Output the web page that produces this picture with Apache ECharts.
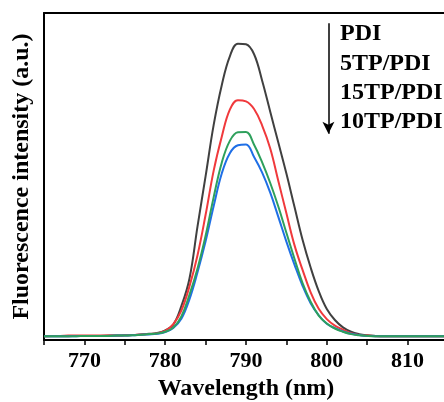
<!DOCTYPE html>
<html><head><meta charset="utf-8">
<script src="https://cdn.jsdelivr.net/npm/echarts@6/dist/echarts.min.js"></script>
<style>html,body{margin:0;padding:0;background:#fff}#c{width:444px;height:402px}</style>
</head><body><div id="c"></div>
<script>
var wavelengths = [765,766,767,768,769,770,771,772,773,774,775,776,777,778,779,780,781,782,783,784,785,786,787,788,789,790,791,792,793,794,795,796,797,798,799,800,801,802,803,804,805,806,807,808,809,810,811,812,813,814,815];
var PDI      = [0.3,0.3,0.3,0.3,0.4,0.4,0.4,0.4,0.5,0.5,0.6,0.7,0.9,1.1,1.4,2.3,4.2,10.5,19.8,37.6,54.6,72,85.5,95.3,99.6,99.4,96,87,76.5,66,55.5,44.2,33,23.6,15.6,9.5,5.8,3.3,1.8,1.0,0.6,0.4,0.3,0.3,0.3,0.3,0.3,0.3,0.3,0.3,0.3];
var TP5_PDI  = [0.3,0.4,0.4,0.5,0.5,0.5,0.5,0.5,0.5,0.5,0.6,0.7,0.9,1.0,1.3,2.1,4.4,9,17.2,27.8,41.5,56.5,68,77.2,80.4,80,77.4,71.8,64,53,42,31.2,22.8,15.2,9.6,6.1,3.9,2.5,1.3,0.7,0.5,0.3,0.3,0.3,0.3,0.3,0.3,0.3,0.3,0.3,0.3];
var TP15_PDI = [0.3,0.3,0.3,0.3,0.3,0.4,0.4,0.4,0.4,0.5,0.5,0.6,0.8,1.0,1.2,1.8,3.2,7,14.3,23.3,34.4,47.5,59.2,66.6,69.5,69.6,65.3,59.3,52.3,44.3,35.4,26.6,18.3,12,7.3,4.6,2.9,1.8,1.0,0.6,0.4,0.3,0.3,0.3,0.3,0.3,0.3,0.3,0.3,0.3,0.3];
var TP10_PDI = [0.3,0.3,0.3,0.3,0.3,0.4,0.4,0.4,0.4,0.5,0.5,0.6,0.8,0.9,1.1,1.7,3.1,6.2,12.8,22,32.5,44.5,55.5,62.4,65.1,65.4,61.1,55.8,49,40.8,32.4,24.6,17.4,11.5,7.4,4.5,3.0,1.9,1.1,0.7,0.4,0.3,0.3,0.3,0.3,0.3,0.3,0.3,0.3,0.3,0.3];
var seriesNames = ['PDI','5TP/PDI','15TP/PDI','10TP/PDI'];
var xTicks = [770,780,790,800,810];

function pairs(arr){ return wavelengths.map(function(w,i){ return [w, arr[i]]; }); }
var FONT = '"Liberation Serif","Times New Roman",serif';
var chart = echarts.init(document.getElementById('c'), null, {renderer:'canvas'});
function line(name, data, color, z){
  return {name:name, type:'line', data:pairs(data), showSymbol:false, smooth:0.4, z:z,
    lineStyle:{color:color, width:2}, itemStyle:{color:color}, animation:false};
}
var black = line(seriesNames[0], PDI, '#404040', 2);
black.markLine = {silent:true, symbol:['none','arrow'], symbolSize:[9,12], label:{show:false},
  lineStyle:{color:'#000', width:1.5, type:'solid'},
  data:[[{coord:[800.2,106.5]},{coord:[800.2,69]}]]};
var option = {
  animation:false,
  backgroundColor:'#fff',
  grid:{left:44, right:-4, top:13, bottom:62, containLabel:false, outerBoundsMode:'none'},
  xAxis:[{
    type:'value', min:765, max:815, interval:5,
    name:'Wavelength (nm)', nameLocation:'middle', nameGap:36,
    nameTextStyle:{fontFamily:FONT, fontWeight:'bold', fontSize:24, color:'#000'},
    axisLine:{show:true, onZero:false, lineStyle:{color:'#000', width:2}},
    axisTick:{show:true, length:5, inside:false, lineStyle:{color:'#000', width:1.5}},
    axisLabel:{margin:10, fontFamily:FONT, fontWeight:'bold', fontSize:22, color:'#000',
      formatter:function(v){ return xTicks.indexOf(v)>=0 ? String(v) : ''; }},
    splitLine:{show:false}
  },{
    type:'value', min:765, max:815, position:'top',
    axisLine:{show:true, onZero:false, lineStyle:{color:'#000', width:2}},
    axisTick:{show:false}, axisLabel:{show:false}, splitLine:{show:false}
  }],
  yAxis:{
    type:'value', min:-1, max:110,
    name:'Fluorescence intensity (a.u.)', nameLocation:'middle', nameGap:10,
    nameTextStyle:{fontFamily:FONT, fontWeight:'bold', fontSize:24, color:'#000'},
    axisLine:{show:true, onZero:false, lineStyle:{color:'#000', width:2}},
    axisTick:{show:false}, axisLabel:{show:false}, splitLine:{show:false}
  },
  graphic:seriesNames.map(function(n,i){
    return {type:'text', left:340, top:22+i*29.3,
      style:{text:n, font:'bold 24px "Liberation Serif", serif', fill:'#000'}};
  }),
  series:[
    black,
    line(seriesNames[1], TP5_PDI, '#f0393c', 3),
    line(seriesNames[3], TP10_PDI, '#1f6fe6', 4),
    line(seriesNames[2], TP15_PDI, '#2ea05c', 5)
  ]
};
chart.setOption(option);
</script></body></html>
